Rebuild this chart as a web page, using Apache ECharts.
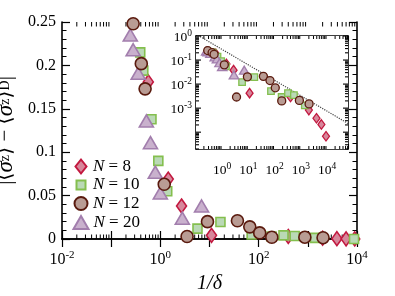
<!DOCTYPE html>
<html><head><meta charset="utf-8">
<script src="https://cdn.jsdelivr.net/npm/echarts@6/dist/echarts.min.js"></script>
<style>html,body{margin:0;padding:0;background:#fff}#c{width:395px;height:296px}</style>
</head><body><div id="c"></div>
<script>
// ---- data (x = 1/delta, y = |<sz> - <sz>_D|) ----
const seriesNames = ['N = 8', 'N = 10', 'N = 12', 'N = 20'];
const dataN8 = [[0.57,0.181],[1.45,0.069],[2.7,0.038],[11,0.0042],[400,0.0029],[2000,0.00083],[3900,0.00038],[6000,0.00021],[9000,0.000068]];
const dataN10 = [[0.39,0.215],[0.45,0.194],[0.66,0.138],[0.91,0.090],[1.38,0.055],[5.7,0.012],[16.7,0.0195],[72,0.0051],[183,0.0029],[320,0.0042],[540,0.0035],[1400,0.0013],[8700,0.00001]];
const dataN12 = [[0.28,0.248],[0.41,0.202],[0.49,0.173],[1.2,0.063],[3.5,0.0029],[9.1,0.020],[37,0.021],[66,0.014],[105,0.007],[185,0.0020],[870,0.0021],[2040,0.0015]];
const dataN20 = [[0.245,0.235],[0.28,0.218],[0.355,0.191],[0.52,0.136],[0.63,0.111],[0.79,0.077],[1.0,0.053],[2.8,0.024],[6.9,0.038]];
const guideLine = [[0.1,1.2],[62000,0.00023]];
// tick label exponents
const mainXLabelExps = [-2,0,2,4];
const insetXLabelExps = [0,1,2,3,4];
const insetYLabelExps = [0,-1,-2,-3];
const insetYMajor = [1e-4,1e-3,1e-2,1e-1,1];
const mainYTicks = [0,0.05,0.1,0.15,0.2,0.25];

const FONT = '"Liberation Serif","DejaVu Serif",serif';
const styles = {
  'N = 8':  {symbol:'diamond',  fill:'#d7879b', stroke:'#c2183f', main:[10,14], inset:[7,9.5], leg:[11,14], legTop:158},
  'N = 10': {symbol:'rect',     fill:'#bad9b6', stroke:'#84bf4e', main:9, inset:6.5, leg:[9,9], legTop:176.5},
  'N = 12': {symbol:'circle',   fill:'#b99c94', stroke:'#5a1a0e', main:12, inset:8, leg:[13,13], legTop:195},
  'N = 20': {symbol:'triangle', fill:'#c9b1cd', stroke:'#a27ead', main:[14,12], inset:[9.5,8], leg:[15,13], legTop:214}
};
const dataByName = {'N = 8':dataN8,'N = 10':dataN10,'N = 12':dataN12,'N = 20':dataN20};
const drawOrder = ['N = 8','N = 10','N = 20','N = 12'];

function minorVals(d0, d1) { const a=[]; for (let d=d0; d<=d1; d++) for (let m=2; m<=9; m++) a.push(m*Math.pow(10,d)); return a; }
function powLabel(exps) {
  return v => { const e=Math.log10(v), r=Math.round(e); if (Math.abs(e-r)>1e-3 || exps.indexOf(r)<0) return ''; return '{b|10}{s|'+r+'}'; };
}
function richFor(big, small, lift) {
  return {b:{fontFamily:FONT,fontSize:big,color:'#000',verticalAlign:'bottom'},
          s:{fontFamily:FONT,fontSize:small,color:'#000',verticalAlign:'bottom',padding:[0,0,lift,0]}};
}
function minorXSeries(xi, yi, vals, yRef, len, z) {
  return {type:'custom', xAxisIndex:xi, yAxisIndex:yi, silent:true, clip:false, z:z,
    data: vals.map(v=>[v,yRef]),
    renderItem:(params, api) => {
      const cs = params.coordSys; const x = api.coord([api.value(0), yRef])[0];
      if (x < cs.x-0.5 || x > cs.x+cs.width+0.5) return null;
      const b = cs.y+cs.height, t = cs.y;
      return {type:'group', children:[
        {type:'line', shape:{x1:x,y1:b,x2:x,y2:b-len}, style:{stroke:'#000',lineWidth:1}},
        {type:'line', shape:{x1:x,y1:t,x2:x,y2:t+len}, style:{stroke:'#000',lineWidth:1}}]};
    }};
}
function minorYSeries(xi, yi, vals, xRef, len, z) {
  return {type:'custom', xAxisIndex:xi, yAxisIndex:yi, silent:true, clip:false, z:z,
    data: vals.map(v=>[xRef,v]),
    renderItem:(params, api) => {
      const cs = params.coordSys; const y = api.coord([xRef, api.value(1)])[1];
      if (y < cs.y-0.5 || y > cs.y+cs.height+0.5) return null;
      const l = cs.x, r = cs.x+cs.width;
      return {type:'group', children:[
        {type:'line', shape:{x1:l,y1:y,x2:l+len,y2:y}, style:{stroke:'#000',lineWidth:1.1}},
        {type:'line', shape:{x1:r,y1:y,x2:r-len,y2:y}, style:{stroke:'#000',lineWidth:1.1}}]};
    }};
}
const axLine = {show:true, lineStyle:{color:'#000', width:1.6}};

const series = [];
drawOrder.forEach(n => {
  const s = styles[n];
  series.push({name:n, type:'scatter', xAxisIndex:0, yAxisIndex:0, data:dataByName[n], symbol:s.symbol, symbolSize:s.main, clip:false, z:5,
    itemStyle:{color:s.fill, borderColor:s.stroke, borderWidth:1.6, opacity:1}});
});
series.push({type:'line', xAxisIndex:2, yAxisIndex:2, data:guideLine, showSymbol:false, silent:true, clip:true, z:6,
  lineStyle:{type:'dotted', color:'#444', width:1.2}});
drawOrder.forEach(n => {
  const s = styles[n];
  series.push({name:n, type:'scatter', xAxisIndex:2, yAxisIndex:2, data:dataByName[n], symbol:s.symbol, symbolSize:s.inset, clip:true, z:7,
    itemStyle:{color:s.fill, borderColor:s.stroke, borderWidth:1.3, opacity:1}});
});
series.push(minorXSeries(0,0,minorVals(-2,3),0.1,4.5,4));
series.push(minorXSeries(2,2,minorVals(-1,4),0.01,3,8));
series.push(minorYSeries(2,2,minorVals(-5,-1),1,3,8));
series.push(minorYSeries(2,2,insetYMajor,1,5,8));

const legends = seriesNames.map(n => {
  const s = styles[n]; const w = s.leg[0], h = s.leg[1];
  return {orient:'vertical', left:80 - w/2, top:s.legTop, padding:0, itemWidth:w, itemHeight:h, data:[n],
    formatter: nm => nm.replace('N','{i|N}'),
    textStyle:{fontFamily:FONT, fontSize:17, color:'#000', padding:[0,0,0,Math.max(0,7-w/2)],
      rich:{i:{fontFamily:FONT,fontSize:17,fontStyle:'italic',color:'#000'}}}};
});

const option = {
  animation:false,
  backgroundColor:'#fff',
  grid:[
    {left:62, top:22, width:295, height:217, show:false, outerBoundsMode:'none', containLabel:false},
    {left:196, top:36, width:152, height:113, show:true, backgroundColor:'#fff', borderWidth:0, z:5, outerBoundsMode:'none', containLabel:false}
  ],
  legend: legends,
  xAxis:[
    {type:'log', gridIndex:0, min:0.01, max:10000, interval:1, position:'bottom',
      name:'1/δ', nameLocation:'middle', nameGap:35,
      nameTextStyle:{fontFamily:FONT, fontSize:20, fontStyle:'italic', color:'#000'},
      axisLine:axLine, axisTick:{inside:true, length:8, lineStyle:{color:'#000',width:1.2}},
      axisLabel:{margin:11, formatter:powLabel(mainXLabelExps), rich:richFor(16,11,7)}, splitLine:{show:false}},
    {type:'log', gridIndex:0, min:0.01, max:10000, interval:1, position:'top',
      axisLine:axLine, axisTick:{inside:true, length:8, lineStyle:{color:'#000',width:1.2}}, axisLabel:{show:false}, splitLine:{show:false}},
    {type:'log', gridIndex:1, min:0.1, max:62000, interval:1, position:'bottom',
      axisLine:axLine, axisTick:{inside:true, length:5, lineStyle:{color:'#000',width:1.1}},
      axisLabel:{margin:12, formatter:powLabel(insetXLabelExps), rich:richFor(13.5,9.5,6)}, splitLine:{show:false}},
    {type:'log', gridIndex:1, min:0.1, max:62000, interval:1, position:'top',
      axisLine:axLine, axisTick:{inside:true, length:5, lineStyle:{color:'#000',width:1.1}}, axisLabel:{show:false}, splitLine:{show:false}}
  ],
  yAxis:[
    {type:'value', gridIndex:0, min:mainYTicks[0], max:mainYTicks[mainYTicks.length-1], interval:0.05, position:'left',
      name:'|⟨{i|σ}{sub|z}⟩ − ⟨{i|σ}{sub|z}⟩{sub|D}|', nameLocation:'middle', nameGap:37, nameRotate:90,
      nameTextStyle:{fontFamily:FONT, fontSize:21, color:'#000',
        rich:{i:{fontFamily:FONT,fontSize:23,fontStyle:'italic',color:'#000'}, sub:{fontFamily:FONT,fontSize:14,color:'#000'}}},
      axisLine:axLine, axisTick:{inside:true, length:8, lineStyle:{color:'#000',width:1.2}},
      minorTick:{show:true, splitNumber:5, length:4.5, lineStyle:{color:'#000',width:1}},
      axisLabel:{margin:6, fontFamily:FONT, fontSize:16, color:'#000'}, splitLine:{show:false}, minorSplitLine:{show:false}},
    {type:'value', gridIndex:0, min:0, max:0.25, interval:0.05, position:'right',
      axisLine:axLine, axisTick:{inside:true, length:8, lineStyle:{color:'#000',width:1.2}},
      minorTick:{show:true, splitNumber:5, length:4.5, lineStyle:{color:'#000',width:1}},
      axisLabel:{show:false}, splitLine:{show:false}, minorSplitLine:{show:false}},
    {type:'log', gridIndex:1, min:Math.pow(10,-4.7), max:1, interval:0.1, position:'left',
      axisLine:axLine, axisTick:{show:false},
      axisLabel:{margin:4, formatter:powLabel(insetYLabelExps), rich:richFor(13.5,9.5,6)}, splitLine:{show:false}},
    {type:'log', gridIndex:1, min:Math.pow(10,-4.7), max:1, interval:0.1, position:'right',
      axisLine:axLine, axisTick:{show:false}, axisLabel:{show:false}, splitLine:{show:false}}
  ],
  series: series
};
const chart = echarts.init(document.getElementById('c'), null, {renderer:'canvas'});
chart.setOption(option);
</script></body></html>
